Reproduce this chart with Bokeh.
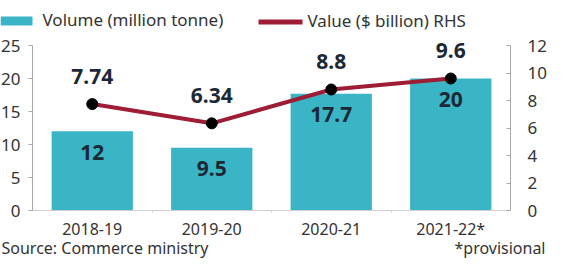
from bokeh.plotting import figure
from bokeh.models import (ColumnDataSource, Range1d, LinearAxis, LabelSet, Label,
                          BoxAnnotation, FixedTicker)
from bokeh.core.properties import value
from bokeh.embed import file_html
from bokeh.resources import INLINE

# ---- data ----
years = ["2018-19", "2019-20", "2020-21", "2021-22*"]
volume_mt = [12, 9.5, 17.7, 20]
value_bn = [7.74, 6.34, 8.8, 9.6]
volume_ticks = [0, 5, 10, 15, 20, 25]
value_ticks = [0, 2, 4, 6, 8, 10, 12]
legend_labels = ["Volume (million tonne)", "Value ($ billion) RHS"]
source_note = "Source: Commerce ministry"
footnote = "*provisional"

# ---- style / layout ----
TEAL = "#3ab5c6"
RED = "#9e1d35"
INK = "#1c2834"
TXT = "#333333"
AXIS = "#a8a8a8"
FONT = "Noto Sans"
W, H = 550, 260
X_PX0, X_STEP = 32.0, 119.5      # left axis pixel, pixels per category
Y_ZERO, Y_TOP = 210.0, 45.0      # pixel rows of 0 and of the top tick
VOL_MAX, VAL_MAX = volume_ticks[-1], value_ticks[-1]

n = len(years)
xs = list(range(n))
x_start = -0.5 - X_PX0 / X_STEP
x_end = x_start + W / X_STEP
k_vol = (Y_ZERO - Y_TOP) / VOL_MAX
k_val = (Y_ZERO - Y_TOP) / VAL_MAX

src = ColumnDataSource(dict(
    x=xs,
    volume=volume_mt,
    value=value_bn,
    vol_text=[f"{v:g}" for v in volume_mt],
    val_text=[f"{v:g}" for v in value_bn],
))

p = figure(width=W, height=H, output_backend="svg", toolbar_location=None,
           x_range=Range1d(x_start, x_end),
           y_range=Range1d(-(H - Y_ZERO) / k_vol, Y_ZERO / k_vol),
           min_border=0, min_border_left=0, min_border_right=0,
           min_border_top=0, min_border_bottom=0,
           x_axis_type=None, y_axis_type=None)
p.extra_y_ranges = {"val": Range1d(-(H - Y_ZERO) / k_val, Y_ZERO / k_val)}
p.outline_line_color = None
p.background_fill_color = "white"
p.border_fill_color = "white"

p.vbar(x="x", top="volume", width=0.68, fill_color=TEAL, line_color=None, source=src)
p.line(x="x", y="value", y_range_name="val", line_color=RED, line_width=4, source=src)
p.scatter(x="x", y="value", y_range_name="val", size=11, fill_color="black",
          line_color="black", source=src)

p.add_layout(LabelSet(x="x", y="volume", text="vol_text", source=src,
                      y_offset=-21, text_align="center", text_baseline="middle",
                      text_font=value(FONT), text_font_style="bold",
                      text_font_size="21px", text_color=INK))
p.add_layout(LabelSet(x="x", y="value", text="val_text", source=src,
                      y_range_name="val", y_offset=28, text_align="center",
                      text_baseline="middle", text_font=value(FONT),
                      text_font_style="bold", text_font_size="21px", text_color=INK))

# ---- axes (fixed inside the canvas) ----
yl = LinearAxis(ticker=FixedTicker(ticks=volume_ticks), fixed_location=-0.5,
                bounds=(0, VOL_MAX))
yr = LinearAxis(y_range_name="val", ticker=FixedTicker(ticks=value_ticks),
                fixed_location=n - 0.5, bounds=(0, VAL_MAX))
xa = LinearAxis(ticker=FixedTicker(ticks=xs, minor_ticks=[i + 0.5 for i in xs[:-1]]),
                fixed_location=0, bounds=(-0.5, n - 0.5),
                major_label_overrides={i: y for i, y in enumerate(years)})
p.add_layout(yl, "left")
p.add_layout(yr, "right")
p.add_layout(xa, "below")
for ax in (yl, yr, xa):
    ax.axis_line_color = AXIS
    ax.major_tick_line_color = AXIS
    ax.minor_tick_line_color = None
    ax.major_label_text_font = FONT
    ax.major_label_text_color = TXT
    ax.major_label_text_font_size = "17px"
yl.major_tick_out = 4
yl.major_tick_in = 0
yl.major_label_standoff = 8
yr.major_tick_out = 0
yr.major_tick_in = 4
yr.major_label_standoff = 17
xa.axis_line_color = "#cfcfcf"
xa.major_tick_line_color = None
xa.minor_tick_line_color = "#cfcfcf"
xa.minor_tick_out = 2
xa.minor_tick_in = 0
xa.major_label_text_font_size = "16px"
xa.major_label_standoff = 1


# ---- legend and notes (screen px; y measured up from the canvas bottom) ----
def box(l, r, t, b, color):
    return BoxAnnotation(left=l, right=r, top=H - t, bottom=H - b,
                         left_units="screen", right_units="screen",
                         top_units="screen", bottom_units="screen",
                         fill_color=color, fill_alpha=1, line_color=None)


def note(x, y, text, size="17px", align="left"):
    return Label(x=x, y=H - y, x_units="screen", y_units="screen", text=text,
                 text_font=FONT, text_font_size=size, text_color=TXT,
                 text_baseline="alphabetic", text_align=align)


p.add_layout(box(0, 32, 16, 25, TEAL))
p.add_layout(note(42, 19, legend_labels[0]))
p.add_layout(box(258, 302, 19, 24, RED))
p.add_layout(note(307, 20, legend_labels[1]))
p.add_layout(note(1, 247, source_note, size="16px"))
p.add_layout(note(545, 247, footnote, size="16px", align="right"))

open("out.html", "w").write(file_html(p, INLINE))
